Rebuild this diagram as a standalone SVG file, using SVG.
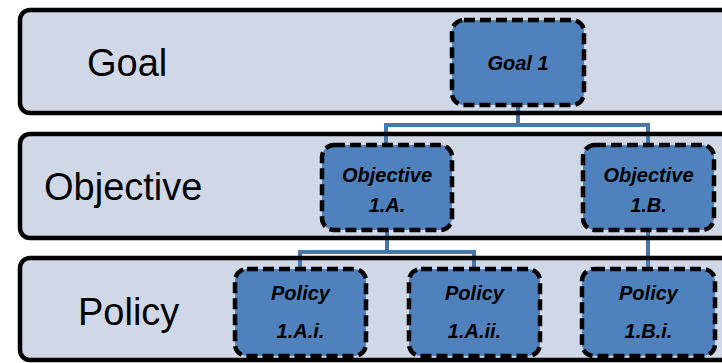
<svg xmlns="http://www.w3.org/2000/svg" width="722" height="363" viewBox="0 0 722 363">
<style>
.band{fill:#D0D8E8;stroke:none}
.bandline{fill:none;stroke:#000;stroke-width:4.5}
.lbl{font-family:"Liberation Sans",Arial,sans-serif;font-size:38px;fill:#000}
.node rect{fill:#4F81BD;stroke:#000;stroke-width:4.5;stroke-dasharray:11 5}
.node text{font-family:"Liberation Sans",Arial,sans-serif;font-size:20px;font-weight:bold;font-style:italic;fill:#000;text-anchor:middle}
.conn{fill:none;stroke:#4A76A8;stroke-width:4}
</style>
<rect width="722" height="363" fill="#fff"/>
<g id="bands">
<rect class="band" x="20" y="10" width="720" height="103" rx="10"/>
<rect class="band" x="20" y="134" width="720" height="104" rx="10"/>
<rect class="band" x="20" y="258" width="720" height="102" rx="10"/>
</g>
<g id="connectors">
<path class="conn" d="M518 105V125M386 143V125H648V143"/>
<path class="conn" d="M387 230V252M300 267V252H474V267"/>
<path class="conn" d="M648 230V267"/>
</g>
<g id="band-borders">
<rect class="bandline" x="20" y="10" width="720" height="103" rx="10"/>
<rect class="bandline" x="20" y="134" width="720" height="104" rx="10"/>
<rect class="bandline" x="20" y="258" width="720" height="102" rx="10"/>
<text class="lbl" x="87" y="76">Goal</text>
<text class="lbl" x="44" y="200">Objective</text>
<text class="lbl" x="78" y="325">Policy</text>
</g>
<g id="goal1" class="node">
<rect x="452" y="20" width="132" height="85" rx="12"/>
<text x="518" y="70">Goal 1</text>
</g>
<g id="obj1a" class="node">
<rect x="322" y="145" width="130" height="85" rx="12"/>
<text x="387" y="182">Objective</text>
<text x="387" y="212">1.A.</text>
</g>
<g id="obj1b" class="node">
<rect x="583" y="145" width="131" height="85" rx="12"/>
<text x="648.5" y="182">Objective</text>
<text x="648.5" y="212">1.B.</text>
</g>
<g id="pol1ai" class="node">
<rect x="235" y="269" width="131" height="87" rx="12"/>
<text x="300.5" y="300">Policy</text>
<text x="300.5" y="338">1.A.i.</text>
</g>
<g id="pol1aii" class="node">
<rect x="409" y="269" width="131" height="87" rx="12"/>
<text x="474.5" y="300">Policy</text>
<text x="474.5" y="338">1.A.ii.</text>
</g>
<g id="pol1bi" class="node">
<rect x="582" y="269" width="133" height="87" rx="12"/>
<text x="648.5" y="300">Policy</text>
<text x="648.5" y="338">1.B.i.</text>
</g>
</svg>
